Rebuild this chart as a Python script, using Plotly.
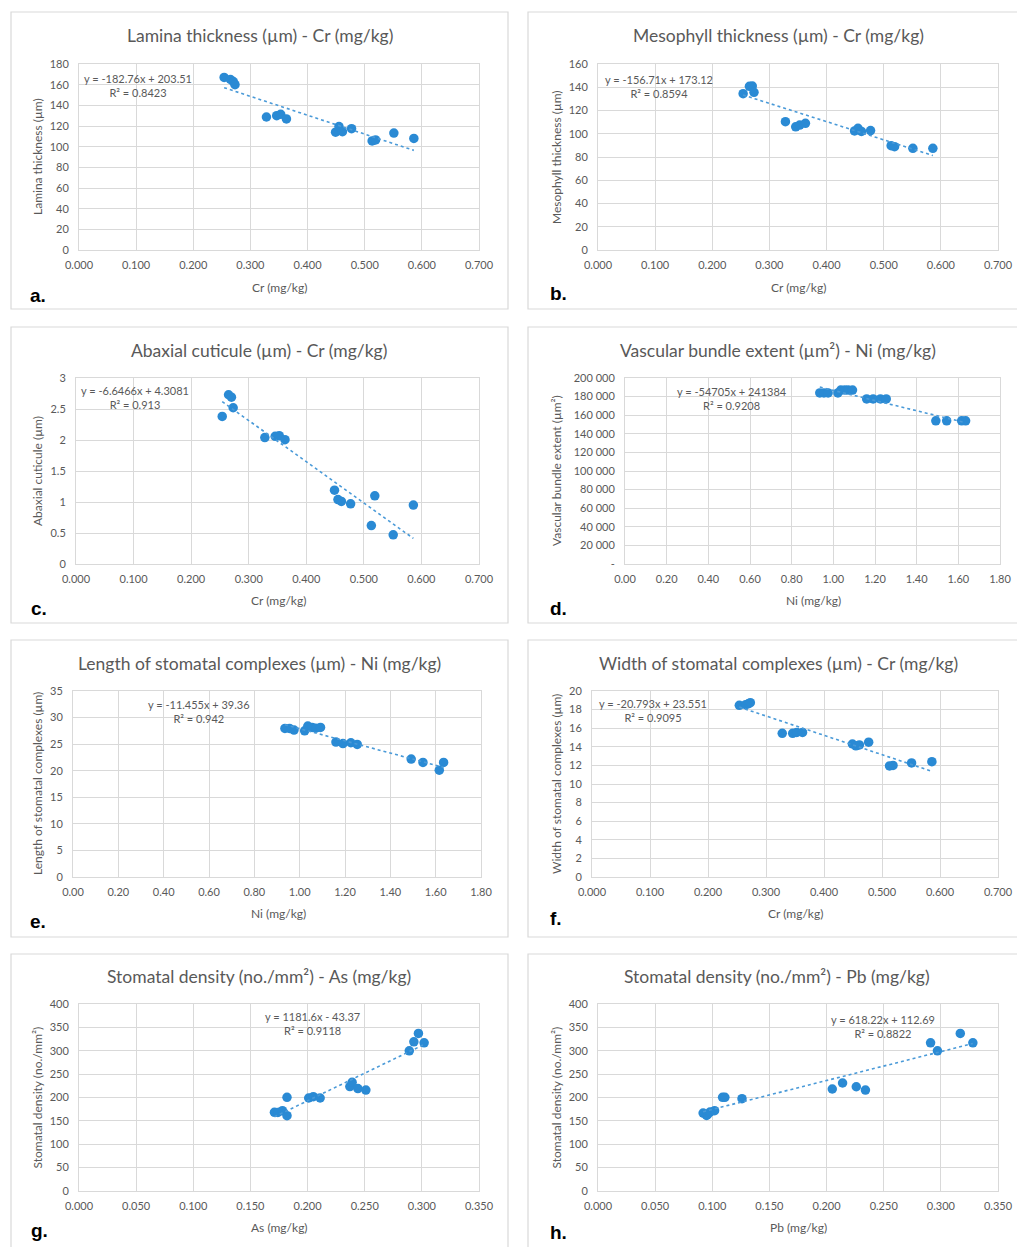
import plotly.graph_objects as go

W, H = 1017, 1247

# ---------------- data ----------------
cr = [0.254, 0.265, 0.270, 0.273, 0.328, 0.346, 0.353, 0.363,
      0.449, 0.455, 0.461, 0.477, 0.513, 0.519, 0.551, 0.586]
ni = [0.935, 0.955, 0.975, 1.022, 1.036, 1.055, 1.071, 1.092,
      1.160, 1.191, 1.226, 1.254, 1.492, 1.544, 1.616, 1.635]
as_mg = [0.171, 0.174, 0.178, 0.182, 0.182, 0.201, 0.205, 0.211,
         0.237, 0.239, 0.244, 0.251, 0.289, 0.293, 0.297, 0.302]
pb_mg = [0.092, 0.095, 0.096, 0.098, 0.102, 0.109, 0.111, 0.126,
         0.205, 0.214, 0.226, 0.234, 0.291, 0.297, 0.317, 0.328]

lamina = [167, 165, 163, 160, 128.7, 130, 131.3, 126.8,
          114, 119.4, 114.5, 117.4, 105.5, 106.5, 113.2, 108]
mesophyll = [134.5, 140.8, 141, 135.6, 110.4, 106, 107.5, 109,
             102.4, 104.7, 102, 102.7, 89.7, 88.9, 87.5, 87.5]
abaxial = [2.38, 2.73, 2.69, 2.52, 2.04, 2.06, 2.07, 2.005,
           1.19, 1.04, 1.01, 0.97, 0.62, 1.10, 0.47, 0.95]
vascular = [184000, 184000, 184000, 184000, 187000, 187000, 187000, 187000,
            177500, 177500, 177500, 177500, 154000, 154000, 154000, 154000]
length_sc = [27.96, 27.96, 27.65, 27.5, 28.4, 28.15, 28.0, 28.15,
             25.4, 25.1, 25.26, 24.95, 22.2, 21.55, 20.1, 21.55]
width_sc = [18.46, 18.53, 18.64, 18.75, 15.45, 15.45, 15.55, 15.55,
            14.3, 14.1, 14.2, 14.5, 11.94, 12.0, 12.26, 12.4]
density_as = [168.2, 168, 171.7, 161, 200.4, 198.9, 201.8, 198.9,
              223.3, 232.6, 219, 216, 299.8, 319, 337, 317]
density_pb = [166.7, 161.7, 164, 168.9, 171.7, 200.4, 200.4, 197.5,
              218.2, 231, 223, 216, 317, 299.8, 337, 317]

slopes = [-182.76, -156.71, -6.6466, -54705, -11.455, -20.793, 1181.6, 618.22]
intercepts = [203.51, 173.12, 4.3081, 241384, 39.36, 23.551, -43.37, 112.69]
eq_labels = ["y = -182.76x + 203.51", "y = -156.71x + 173.12", "y = -6.6466x + 4.3081",
             "y = -54705x + 241384", "y = -11.455x + 39.36", "y = -20.793x + 23.551",
             "y = 1181.6x - 43.37", "y = 618.22x + 112.69"]
r2_labels = ["R² = 0.8423", "R² = 0.8594", "R² = 0.913", "R² = 0.9208",
             "R² = 0.942", "R² = 0.9095", "R² = 0.9118", "R² = 0.8822"]

titles = ["Lamina thickness (µm) - Cr (mg/kg)", "Mesophyll thickness (µm) - Cr (mg/kg)",
          "Abaxial cuticule (µm) - Cr (mg/kg)", "Vascular bundle extent (µm²) - Ni (mg/kg)",
          "Length of stomatal complexes (µm) - Ni (mg/kg)", "Width of stomatal complexes (µm) - Cr (mg/kg)",
          "Stomatal density (no./mm²) - As (mg/kg)", "Stomatal density (no./mm²) - Pb (mg/kg)"]
y_titles = ["Lamina thickness (µm)", "Mesophyll thickness (µm)", "Abaxial cuticule (µm)",
            "Vascular bundle extent (µm²)", "Length of stomatal complexes (µm)",
            "Width of stomatal complexes (µm)", "Stomatal density (no./mm²)", "Stomatal density (no./mm²)"]
x_titles = ["Cr (mg/kg)", "Cr (mg/kg)", "Cr (mg/kg)", "Ni (mg/kg)",
            "Ni (mg/kg)", "Cr (mg/kg)", "As (mg/kg)", "Pb (mg/kg)"]
panel_letters = ["a.", "b.", "c.", "d.", "e.", "f.", "g.", "h."]

vascular_ticks = [0, 20000, 40000, 60000, 80000, 100000, 120000, 140000, 160000, 180000, 200000]
vascular_ticktext = ["-", "20 000", "40 000", "60 000", "80 000", "100 000",
                     "120 000", "140 000", "160 000", "180 000", "200 000"]

xs = [cr, cr, cr, ni, ni, cr, as_mg, pb_mg]
ys = [lamina, mesophyll, abaxial, vascular, length_sc, width_sc, density_as, density_pb]

# ---------------- layout specs ----------------
plot_px = [(79, 479, 64, 250), (598, 998, 64, 250),
           (76, 479, 378, 564), (625, 1000, 378, 564),
           (73, 481, 691, 877), (592, 998, 691, 877),
           (79, 479, 1004, 1191), (598, 998, 1004, 1191)]
x_rng = [(0.7, 0.1, ".3f"), (0.7, 0.1, ".3f"), (0.7, 0.1, ".3f"), (1.8, 0.2, ".2f"),
         (1.8, 0.2, ".2f"), (0.7, 0.1, ".3f"), (0.35, 0.05, ".3f"), (0.35, 0.05, ".3f")]
y_rng = [(180, 20), (160, 20), (3, 0.5), (200000, 20000), (35, 5), (20, 2), (400, 50), (400, 50)]
box_px = [(11, 508, 12, 309), (528, 1030, 12, 309),
          (11, 508, 327, 623), (528, 1030, 327, 623),
          (11, 508, 640, 937), (528, 1030, 640, 937),
          (11, 508, 954, 1260), (528, 1030, 954, 1260)]
title_pos = [(260, 36), (778, 36), (259, 350), (778, 350),
             (259, 663), (778, 663), (259, 976), (777, 976)]
xt_pos = [(279, 287), (798, 287), (278, 600), (813, 600),
          (278, 913), (795, 913), (279, 1227), (798, 1227)]
yt_x = [37, 556, 37, 556, 37, 556, 37, 556]
eq_pos = [(138, 85), (659, 86), (135, 397), (732, 398),
          (199, 711), (653, 710), (312, 1023), (883, 1026)]
letter_pos = [(28, 295), (548, 293), (29, 608), (548, 608),
              (28, 921), (548, 918), (29, 1230), (548, 1232)]

FONT = "Lato"
GRAY = "#595959"
MARK = "#2A8AD4"
TREND = "#4A9AD8"


def px(x):
    return x / W


def py(y):
    return 1 - y / H


fig = go.Figure()
annotations = []
shapes = []
layout_axes = {}

for i in range(8):
    n = "" if i == 0 else str(i + 1)
    xa, ya = "x" + n, "y" + n
    x0, x1, y0, y1 = plot_px[i]
    xmax, xdt, xfmt = x_rng[i]
    ymax, ydt = y_rng[i]

    fig.add_trace(go.Scatter(x=xs[i], y=ys[i], mode="markers", xaxis=xa, yaxis=ya,
                             marker=dict(size=9.5, color=MARK), showlegend=False,
                             cliponaxis=False))
    xmin_d, xmax_d = min(xs[i]), max(xs[i])
    fig.add_trace(go.Scatter(x=[xmin_d, xmax_d],
                             y=[slopes[i] * xmin_d + intercepts[i], slopes[i] * xmax_d + intercepts[i]],
                             mode="lines", xaxis=xa, yaxis=ya,
                             line=dict(color=TREND, width=1.6, dash="dot"), showlegend=False))

    xaxis = dict(domain=[px(x0), px(x1)], range=[0, xmax], dtick=xdt, tick0=0, tickformat=xfmt,
                 showgrid=True, gridcolor="#d9d9d9", gridwidth=1, zeroline=False,
                 showline=True, linecolor="#d9d9d9", mirror=True, anchor=ya, automargin=False,
                 tickfont=dict(family=FONT, size=11, color=GRAY), ticks="", ticklabelstandoff=5,
                 fixedrange=True)
    yaxis = dict(domain=[py(y1), py(y0)], range=[0, ymax], dtick=ydt, tick0=0,
                 showgrid=True, gridcolor="#d9d9d9", gridwidth=1, zeroline=False,
                 showline=True, linecolor="#d9d9d9", mirror=True, anchor=xa, automargin=False,
                 tickfont=dict(family=FONT, size=11, color=GRAY), ticks="", ticklabelstandoff=7,
                 fixedrange=True)
    if i == 3:
        yaxis.update(tickmode="array", tickvals=vascular_ticks, ticktext=vascular_ticktext)
    layout_axes["xaxis" + n] = xaxis
    layout_axes["yaxis" + n] = yaxis

    bx0, bx1, by0, by1 = box_px[i]
    shapes.append(dict(type="rect", xref="paper", yref="paper",
                       x0=px(bx0), x1=px(bx1), y0=py(by1), y1=py(by0),
                       line=dict(color="#d9d9d9", width=1.2), fillcolor="rgba(0,0,0,0)", layer="below"))

    tx, ty = title_pos[i]
    annotations.append(dict(text=titles[i], x=px(tx), y=py(ty), xref="paper", yref="paper",
                            showarrow=False, xanchor="center", yanchor="middle",
                            font=dict(family=FONT, size=17.5, color=GRAY)))
    ax_, ay_ = xt_pos[i]
    annotations.append(dict(text=x_titles[i], x=px(ax_), y=py(ay_), xref="paper", yref="paper",
                            showarrow=False, xanchor="center", yanchor="middle",
                            font=dict(family=FONT, size=12, color=GRAY)))
    annotations.append(dict(text=y_titles[i], x=px(yt_x[i]), y=py((y0 + y1) / 2), xref="paper",
                            yref="paper", showarrow=False, xanchor="center", yanchor="middle",
                            textangle=-90, font=dict(family=FONT, size=12, color=GRAY)))
    ex, ey = eq_pos[i]
    annotations.append(dict(text=eq_labels[i] + "<br>" + r2_labels[i], x=px(ex), y=py(ey),
                            xref="paper", yref="paper", showarrow=False, xanchor="center",
                            yanchor="middle", align="center",
                            font=dict(family=FONT, size=11, color=GRAY)))
    lx, ly = letter_pos[i]
    annotations.append(dict(text="<b>" + panel_letters[i] + "</b>", x=px(lx), y=py(ly),
                            xref="paper", yref="paper", showarrow=False, xanchor="left",
                            yanchor="middle", font=dict(family="Liberation Sans", size=19, color="#000000")))

fig.update_layout(width=W, height=H, margin=dict(l=0, r=0, t=0, b=0, autoexpand=False),
                  paper_bgcolor="white", plot_bgcolor="white",
                  annotations=annotations, shapes=shapes, **layout_axes)

fig.write_html("out.html", config={"displayModeBar": False},
               post_script="document.body.style.margin='0px';"
                           "document.documentElement.style.overflow='hidden';"
                           "document.body.style.overflow='hidden';")
